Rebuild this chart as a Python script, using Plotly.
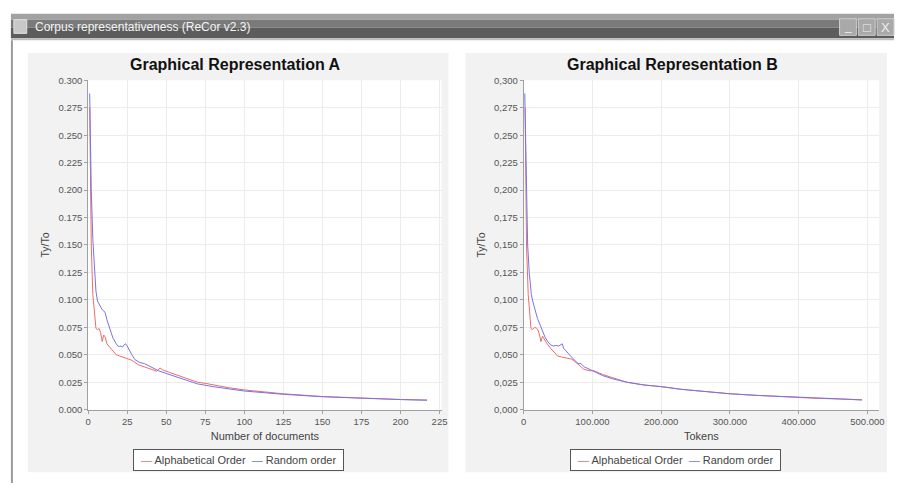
import plotly.graph_objects as go

# --- data ---
# Graphical Representation A: type/token ratio vs number of documents
docs_alpha = [1, 2, 3, 4, 5, 6, 7, 8, 9, 10, 11, 12, 14, 16, 18, 20, 22, 25, 28, 32, 36, 40,
              44, 46, 48, 52, 56, 60, 65, 70, 75, 80, 90, 100, 110, 125, 150, 175, 200, 217]
ttr_alpha = [0.275, 0.150, 0.105, 0.085, 0.074, 0.073, 0.074, 0.070, 0.062, 0.068, 0.066, 0.060,
             0.057, 0.053, 0.050, 0.049, 0.048, 0.047, 0.045, 0.041, 0.039, 0.037,
             0.035, 0.038, 0.036, 0.034, 0.032, 0.030, 0.027, 0.025, 0.024, 0.0225, 0.020,
             0.018, 0.0165, 0.0145, 0.012, 0.0105, 0.0093, 0.0088]

docs_rand = [1, 2, 3, 4, 5, 6, 7, 8, 9, 10, 11, 12, 13, 14, 15, 16, 17, 18, 19, 20, 21, 22, 23,
             24, 25, 26, 28, 30, 33, 36, 40, 45, 50, 58, 65, 70, 80, 90, 100, 110, 125, 150,
             175, 200, 217]
ttr_rand = [0.288, 0.200, 0.155, 0.125, 0.108, 0.099, 0.096, 0.093, 0.091, 0.090, 0.088, 0.082,
            0.077, 0.072, 0.069, 0.065, 0.062, 0.060, 0.058, 0.0575, 0.058, 0.057, 0.059,
            0.060, 0.058, 0.055, 0.050, 0.0455, 0.043, 0.042, 0.039, 0.0355, 0.033, 0.029,
            0.026, 0.0235, 0.021, 0.019, 0.017, 0.0158, 0.014, 0.0118, 0.0102, 0.0092, 0.0086]

# Graphical Representation B: type/token ratio vs tokens
tok_alpha = [2000, 4000, 6500, 9000, 10500, 13000, 16000, 19000, 21000, 23000, 25000, 27300,
             30000, 34000, 39000, 44000, 49000, 55000, 63000, 70000, 76000, 82000, 87000,
             95000, 102000, 115000, 130000, 150000, 175000, 200000, 230000, 260000, 300000,
             340000, 380000, 420000, 460000, 492000]
tok_ttr_alpha = [0.275, 0.150, 0.105, 0.085, 0.074, 0.073, 0.075, 0.074, 0.072, 0.068, 0.062,
                 0.067, 0.064, 0.060, 0.056, 0.052, 0.049, 0.048, 0.047, 0.046, 0.043, 0.040,
                 0.037, 0.0355, 0.0355, 0.032, 0.029, 0.025, 0.0225, 0.021, 0.0185, 0.0165,
                 0.0145, 0.013, 0.0115, 0.0105, 0.0097, 0.0088]

tok_rand = [1500, 3500, 5700, 8000, 11000, 13000, 16000, 20000, 24000, 28000, 31000, 35000,
            39000, 43000, 47000, 51000, 54000, 56000, 58000, 63000, 68000, 74000, 79000,
            83000, 88000, 95000, 102000, 115000, 130000, 150000, 175000, 200000, 230000,
            260000, 300000, 340000, 380000, 420000, 460000, 492000]
tok_ttr_rand = [0.288, 0.200, 0.150, 0.125, 0.105, 0.099, 0.092, 0.083, 0.077, 0.070, 0.066,
                0.062, 0.059, 0.058, 0.0585, 0.058, 0.059, 0.060, 0.056, 0.052, 0.049, 0.045,
                0.042, 0.042, 0.039, 0.037, 0.035, 0.031, 0.028, 0.025, 0.0225, 0.021, 0.0185,
                0.0165, 0.0145, 0.013, 0.0118, 0.0105, 0.0097, 0.009]

series_names = ["Alphabetical Order", "Random order"]
y_ticks = [0, 0.025, 0.05, 0.075, 0.1, 0.125, 0.15, 0.175, 0.2, 0.225, 0.25, 0.275, 0.3]
y_text_a = ["0.000", "0.025", "0.050", "0.075", "0.100", "0.125", "0.150", "0.175",
            "0.200", "0.225", "0.250", "0.275", "0.300"]
y_text_b = [t.replace(".", ",") for t in y_text_a]
x_ticks_a = [0, 25, 50, 75, 100, 125, 150, 175, 200, 225]
x_ticks_b = [0, 100000, 200000, 300000, 400000, 500000]
x_text_b = ["0", "100.000", "200.000", "300.000", "400.000", "500.000"]

RED = "#ef6b6b"
BLUE = "#7474e6"
W, H = 900, 488
FONT = "Liberation Sans, Arial, sans-serif"


def px(x):
    return x / W


def py(y):
    return 1 - y / H


fig = go.Figure()

fig.add_trace(go.Scatter(x=docs_alpha, y=ttr_alpha, mode="lines", name=series_names[0],
                         line=dict(color=RED, width=1), xaxis="x", yaxis="y"))
fig.add_trace(go.Scatter(x=docs_rand, y=ttr_rand, mode="lines", name=series_names[1],
                         line=dict(color=BLUE, width=1), xaxis="x", yaxis="y"))
fig.add_trace(go.Scatter(x=tok_alpha, y=tok_ttr_alpha, mode="lines", name=series_names[0],
                         line=dict(color=RED, width=1), xaxis="x2", yaxis="y2"))
fig.add_trace(go.Scatter(x=tok_rand, y=tok_ttr_rand, mode="lines", name=series_names[1],
                         line=dict(color=BLUE, width=1), xaxis="x2", yaxis="y2"))

axis_style = dict(showgrid=True, gridcolor="#ececec", gridwidth=1, showline=True,
                  linecolor="#a0a0a0", linewidth=1, ticks="outside", ticklen=3,
                  tickcolor="#a0a0a0", zeroline=False, mirror=False,
                  tickfont=dict(size=9.5, color="#555555", family=FONT))
title_font = dict(size=11, color="#444", family=FONT)
y_title = "Ty/To"

plot_top, plot_bot = 76, 413
fig.update_layout(
    xaxis=dict(axis_style, domain=[px(86), px(443)], range=[0, 226.3], tickvals=x_ticks_a,
               anchor="y", title=dict(text="Number of documents", standoff=6, font=title_font)),
    yaxis=dict(axis_style, domain=[py(plot_bot), py(plot_top)], range=[0, 0.3],
               tickvals=y_ticks, ticktext=y_text_a, anchor="x",
               title=dict(text=y_title, standoff=6, font=dict(title_font, size=10.5))),
    xaxis2=dict(axis_style, domain=[px(526), px(885)], range=[0, 517000], tickvals=x_ticks_b,
                ticktext=x_text_b, anchor="y2",
                title=dict(text="Tokens", standoff=6, font=title_font)),
    yaxis2=dict(axis_style, domain=[py(plot_bot), py(plot_top)], range=[0, 0.3],
                tickvals=y_ticks, ticktext=y_text_b, anchor="x2",
                title=dict(text=y_title, standoff=6, font=dict(title_font, size=10.5))),
    width=W, height=H, margin=dict(l=0, r=0, t=0, b=0),
    paper_bgcolor="white", plot_bgcolor="white", showlegend=False,
)

shapes = []


def rect(x0, y0, x1, y1, fill, line=None, layer="below"):
    shapes.append(dict(type="rect", xref="paper", yref="paper", x0=px(x0), x1=px(x1),
                       y0=py(y1), y1=py(y0), fillcolor=fill, layer=layer,
                       line=dict(width=1 if line else 0, color=line or fill)))


# window frame and title bar
rect(8, 8, 900, 14, "#a2a2a2")
rect(8, 14, 900, 22, "#7a7a7a")
rect(8, 22, 900, 33, "#5c5c5c")
rect(8, 33, 900, 35, "#bdbdbd")
rect(8, 35, 10, 488, "#9a9a9a")
# app icon
rect(11, 14, 24, 28, "#c8c8c8", "#e0e0e0")
# window buttons
for bx in (845, 864, 883):
    rect(bx, 13, bx + 17, 30, "#a9a9a9", "#cfcfcf")
# chart panels and plot areas
rect(25, 48, 450, 477, "#f2f2f2")
rect(467, 48, 893, 477, "#f2f2f2")
rect(86, plot_top, 443, plot_bot, "white")
rect(526, plot_top, 885, plot_bot, "white")
fig.update_layout(shapes=shapes)

legend_text = (f'&nbsp;<span style="color:{RED}">—</span> {series_names[0]}&nbsp; '
               f'<span style="color:{BLUE}">—</span> {series_names[1]}&nbsp;')

annotations = [
    dict(text="Corpus representativeness (ReCor v2.3)", x=px(30), y=py(21), xanchor="left",
         yanchor="middle", font=dict(size=12, color="#f4f4f4", family=FONT)),
    dict(text="<b>Graphical Representation A</b>", x=px(235), y=py(60), xanchor="center",
         yanchor="middle", font=dict(size=16, color="#111", family=FONT)),
    dict(text="<b>Graphical Representation B</b>", x=px(676), y=py(60), xanchor="center",
         yanchor="middle", font=dict(size=16, color="#111", family=FONT)),
    dict(text="_", x=px(853.5), y=py(20), xanchor="center", yanchor="middle",
         font=dict(size=12, color="#eeeeee", family=FONT)),
    dict(text="□", x=px(872.5), y=py(21.5), xanchor="center", yanchor="middle",
         font=dict(size=13, color="#eeeeee", family=FONT)),
    dict(text="X", x=px(891.5), y=py(21.5), xanchor="center", yanchor="middle",
         font=dict(size=13, color="#eeeeee", family=FONT)),
    # legends
    dict(text=legend_text, x=px(238), y=py(464), xanchor="center", yanchor="middle",
         font=dict(size=11, color="#444", family=FONT), bgcolor="white",
         bordercolor="#555", borderwidth=1, borderpad=4),
    dict(text=legend_text, x=px(679), y=py(464), xanchor="center", yanchor="middle",
         font=dict(size=11, color="#444", family=FONT), bgcolor="white",
         bordercolor="#555", borderwidth=1, borderpad=4),
]
for a in annotations:
    a.update(xref="paper", yref="paper", showarrow=False)
fig.update_layout(annotations=annotations)

fig.write_html("out.html", config={"displayModeBar": False},
               post_script="document.body.style.margin='0';")
